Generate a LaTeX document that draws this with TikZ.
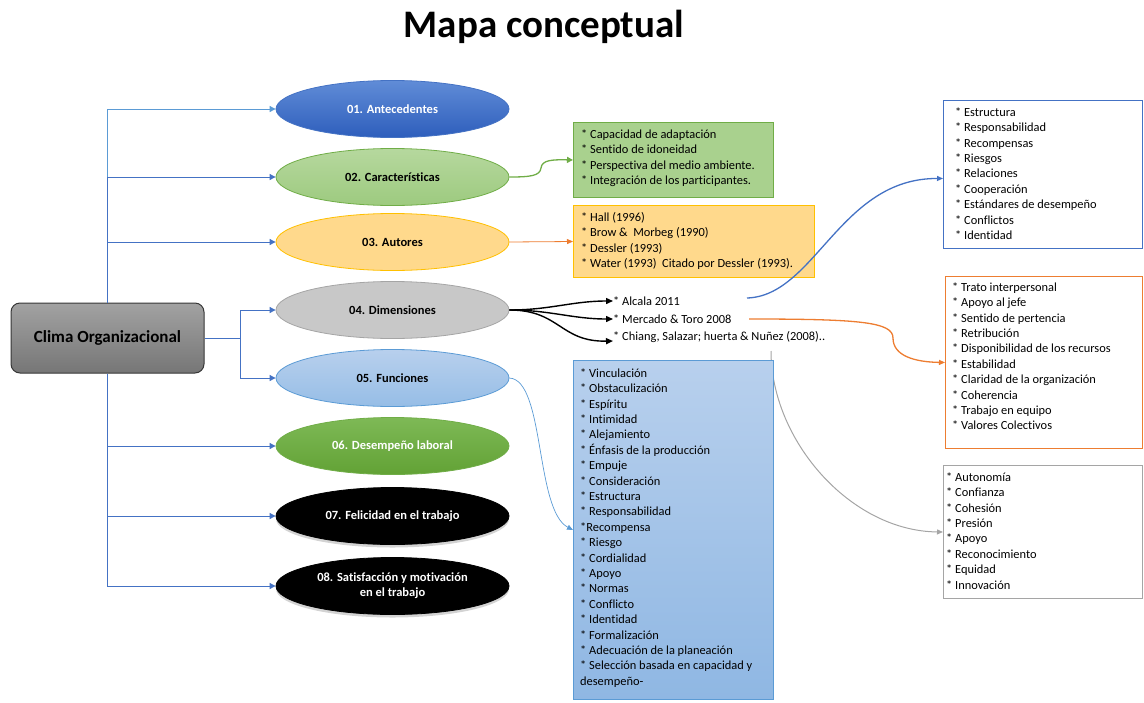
\documentclass[tikz,border=0pt]{standalone}
\usepackage{fontspec}
\setmainfont{Carlito}[Ligatures=NoCommon]
\usetikzlibrary{shapes.geometric,arrows.meta,shadows}
\definecolor{cblue}{RGB}{68,114,196}
\definecolor{lblue}{RGB}{91,155,213}
\definecolor{cgreen}{RGB}{112,173,71}
\definecolor{lgreen}{RGB}{169,209,142}
\definecolor{corange}{RGB}{237,125,49}
\definecolor{cgold}{RGB}{255,192,0}
\definecolor{lgold}{RGB}{255,217,140}
\definecolor{cgray}{RGB}{165,165,165}
\definecolor{lgray}{RGB}{200,200,200}
\begin{document}
\begin{tikzpicture}[x=1pt,y=-1pt,
  conn/.style={draw=cblue, line width=0.9pt, -{Triangle[length=6pt,width=6pt]}},
  ell/.style={ellipse, minimum width=233pt, minimum height=57pt, inner sep=0pt,
    font=\fontsize{12.5}{15}\selectfont\bfseries, align=center, line width=0.8pt},
  listbox/.style={rectangle, inner sep=0pt, line width=1pt, anchor=north west},
  listtext/.style={anchor=north west, inner sep=0pt, align=left,
    font=\fontsize{12.4}{15.4}\selectfont},
  auth/.style={anchor=west, inner sep=0pt, font=\fontsize{12.4}{15}\selectfont},
  blk/.style={draw=black, line width=1.4pt, -{Triangle[length=7pt,width=6pt]}},
]
\useasboundingbox (0,0) rectangle (1144,702);

% title
\node[font=\fontsize{39}{44}\selectfont\bfseries, anchor=base, inner sep=0pt] (title) at (544,37) {Mapa conceptual};

% central box
\node[rectangle, rounded corners=9pt, minimum width=193pt, minimum height=70pt,
  top color={rgb,255:red,162;green,162;blue,162}, bottom color={rgb,255:red,118;green,118;blue,118},
  draw={rgb,255:red,55;green,55;blue,55}, line width=1pt,
  font=\fontsize{17}{20}\selectfont\bfseries] (clima) at (107.5,338) {Clima Organizacional};

% ellipses
\node[ell, top color={rgb,255:red,96;green,140;blue,215}, bottom color={rgb,255:red,46;green,94;blue,188}, draw=cblue, text=white] (e1) at (392.5,109) {01. Antecedentes};
\node[ell, top color={rgb,255:red,182;green,216;blue,158}, bottom color={rgb,255:red,157;green,202;blue,127}, draw=cgreen] (e2) at (392.5,177) {02. Características};
\node[ell, fill=lgold, draw=cgold] (e3) at (392.5,242) {03. Autores};
\node[ell, fill=lgray, draw=cgray] (e4) at (392.5,310) {04. Dimensiones};
\node[ell, top color={rgb,255:red,184;green,208;blue,237}, bottom color={rgb,255:red,150;green,189;blue,230}, draw=lblue] (e5) at (392.5,378) {05. Funciones};
\node[ell, top color={rgb,255:red,126;green,185;blue,86}, bottom color={rgb,255:red,98;green,162;blue,53}, draw=cgreen, text=white] (e6) at (392.5,446) {06. Desempeño laboral};
\node[ell, fill=black, draw=black, text=white, drop shadow={shadow xshift=0pt, shadow yshift=-3pt, opacity=0.35}] (e7) at (392.5,516) {07. Felicidad en el trabajo};
\node[ell, fill=black, draw=black, text=white, drop shadow={shadow xshift=0pt, shadow yshift=-3pt, opacity=0.35}] (e8) at (392.5,586) {08. Satisfacción y motivación\\en el trabajo};

% connectors from central box
\coordinate (jr) at (240,338);
\draw[conn, draw=lblue] (clima.north) |- (e1.west);
\draw[conn] (clima.north) |- (e2.west);
\draw[conn] (clima.north) |- (e3.west);
\draw[conn] (clima.east) -- (jr) |- (e4.west);
\draw[conn] (jr) |- (e5.west);
\draw[conn] (clima.south) |- (e6.west);
\draw[conn] (clima.south) |- (e7.west);
\draw[conn] (clima.south) |- (e8.west);

% grey curve (behind blue box)
\coordinate (s3) at (771,351);
\node[listbox, draw=cgray, minimum width=199pt, minimum height=133pt] (box3) at (943,465) {};
\draw[draw=cgray, line width=1pt, -{Triangle[length=6pt,width=5pt]}] (s3) .. controls (771,440) and (850,531) .. (box3.west);

% list boxes
\node[listbox, fill=lgreen, draw=cgreen, minimum width=200pt, minimum height=75pt] (gbox) at (573,122) {};
\node[listbox, fill=lgold, draw=cgold, minimum width=241pt, minimum height=72pt] (obox) at (573,205) {};
\node[listbox, top color={rgb,255:red,184;green,208;blue,237}, bottom color={rgb,255:red,143;green,183;blue,227}, draw=lblue, minimum width=200pt, minimum height=339pt] (bbox) at (573,360) {};
\node[listbox, draw=cblue, minimum width=199pt, minimum height=148pt] (box1) at (943,100) {};
\node[listbox, draw=corange, minimum width=197pt, minimum height=172pt] (box2) at (945,276) {};

% list texts
\node[listtext] (gtxt) at (581,127) {\rule{0pt}{11pt}* Capacidad de adaptación\\* Sentido de idoneidad\\* Perspectiva del medio ambiente.\\* Integración de los participantes.};
\node[listtext] (otxt) at (581,210) {\rule{0pt}{11pt}* Hall (1996)\\* Brow \&\ \ Morbeg (1990)\\* Dessler (1993)\\* Water (1993)\ \ Citado por Dessler (1993).};
\node[listtext] (btxt) at (580,366) {\rule{0pt}{11pt}* Vinculación\\* Obstaculización\\* Espíritu\\* Intimidad\\* Alejamiento\\* Énfasis de la producción\\* Empuje\\* Consideración\\* Estructura\\* Responsabilidad\\*Recompensa\\* Riesgo\\* Cordialidad\\* Apoyo\\* Normas\\* Conflicto\\* Identidad\\* Formalización\\* Adecuación de la planeación\\* Selección basada en capacidad y\\desempeño-};
\node[listtext] (t1box) at (955,105) {\rule{0pt}{11pt}* Estructura\\* Responsabilidad\\* Recompensas\\* Riesgos\\* Relaciones\\* Cooperación\\* Estándares de desempeño\\* Conflictos\\* Identidad};
\node[listtext] (t2box) at (952,280) {\rule{0pt}{11pt}* Trato interpersonal\\* Apoyo al jefe\\* Sentido de pertencia\\* Retribución\\* Disponibilidad de los recursos\\* Estabilidad\\* Claridad de la organización\\* Coherencia\\* Trabajo en equipo\\* Valores Colectivos};
\node[listtext] (t3box) at (946,470) {\rule{0pt}{11pt}* Autonomía\\* Confianza\\* Cohesión\\* Presión\\* Apoyo\\* Reconocimiento\\* Equidad\\* Innovación};

% author texts of dimensiones
\node[auth] (a1) at (613,301) {* Alcala 2011};
\node[auth] (a2) at (613,319) {* Mercado \& Toro 2008};
\node[auth] (a3) at (613,337) {* Chiang, Salazar; huerta \& Nuñez (2008)..};

\draw[blk] (e4.east) to[out=0,in=180] (a1.west);
\draw[blk] (e4.east) to[out=0,in=180] (a2.west);
\draw[blk] (e4.east) .. controls (560,310) and (560,342) .. ([yshift=-4pt]a3.west);

% other connectors
\draw[draw=cgreen, line width=1.3pt, -{Triangle[length=6pt,width=6pt]}] (e2.east) .. controls (530,177) and (540,176) .. (541,168) .. controls (542,160) and (552,159.5) .. (gbox.west);
\draw[draw=corange, line width=0.8pt, -{Triangle[length=6pt,width=5pt]}] (e3.east) -- (obox.west);
\draw[draw=lblue, line width=0.7pt, -{Triangle[length=6pt,width=5pt]}] (e5.east) .. controls (545,380) and (535,510) .. (bbox.west);

\coordinate (s1) at (747,298);
\draw[draw=cblue, line width=1.3pt, -{Triangle[length=6pt,width=5pt]}] (s1) .. controls (815,296) and (840,178) .. ([yshift=-4pt]box1.west);
\coordinate (s2) at (749,319);
\draw[draw=corange, line width=1.3pt, -{Triangle[length=6pt,width=5pt]}] (s2) .. controls (860,319) and (893,322) .. (893,338) .. controls (893,356) and (915,362) .. (box2.west);
\end{tikzpicture}
\end{document}
